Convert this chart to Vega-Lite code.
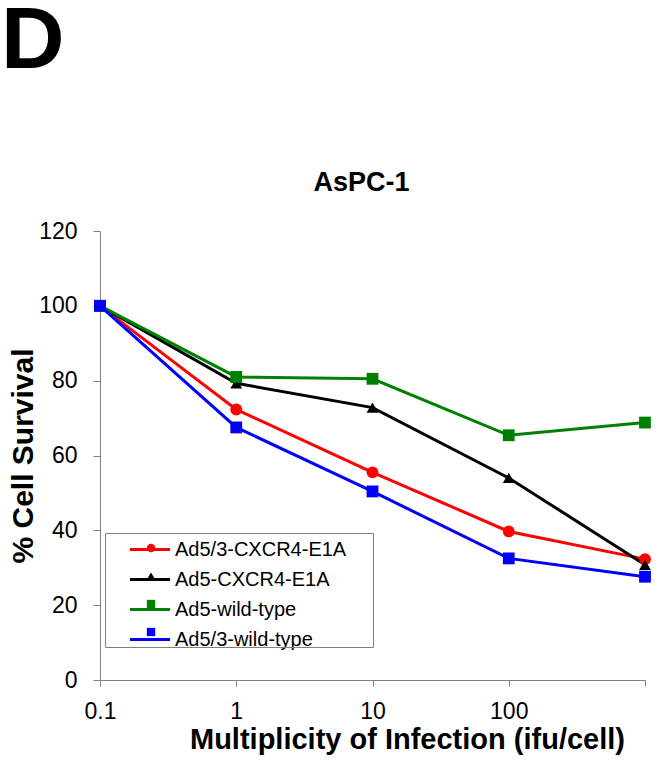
{
  "$schema": "https://vega.github.io/schema/vega-lite/v6.json",
  "background": "white",
  "padding": {"left": 1, "top": -2, "right": 10, "bottom": 10},
  "config": {"font": "Liberation Sans", "view": {"stroke": null}},
  "title": {"text": "D", "anchor": "start", "frame": "bounds", "fontSize": 88, "fontWeight": "bold", "color": "black", "offset": 13, "dx": -7, "baseline": "alphabetic"},
  "datasets": {
    "survival": [
      {"series": "Ad5/3-CXCR4-E1A", "moi": 0.1, "survival": 100},
      {"series": "Ad5/3-CXCR4-E1A", "moi": 1, "survival": 72.3},
      {"series": "Ad5/3-CXCR4-E1A", "moi": 10, "survival": 55.5},
      {"series": "Ad5/3-CXCR4-E1A", "moi": 100, "survival": 39.7},
      {"series": "Ad5/3-CXCR4-E1A", "moi": 1000, "survival": 32.3},
      {"series": "Ad5-CXCR4-E1A", "moi": 0.1, "survival": 100},
      {"series": "Ad5-CXCR4-E1A", "moi": 1, "survival": 79.3},
      {"series": "Ad5-CXCR4-E1A", "moi": 10, "survival": 72.8},
      {"series": "Ad5-CXCR4-E1A", "moi": 100, "survival": 54},
      {"series": "Ad5-CXCR4-E1A", "moi": 1000, "survival": 30.8},
      {"series": "Ad5-wild-type", "moi": 0.1, "survival": 100},
      {"series": "Ad5-wild-type", "moi": 1, "survival": 81},
      {"series": "Ad5-wild-type", "moi": 10, "survival": 80.5},
      {"series": "Ad5-wild-type", "moi": 100, "survival": 65.4},
      {"series": "Ad5-wild-type", "moi": 1000, "survival": 68.8},
      {"series": "Ad5/3-wild-type", "moi": 0.1, "survival": 100},
      {"series": "Ad5/3-wild-type", "moi": 1, "survival": 67.5},
      {"series": "Ad5/3-wild-type", "moi": 10, "survival": 50.4},
      {"series": "Ad5/3-wild-type", "moi": 100, "survival": 32.5},
      {"series": "Ad5/3-wild-type", "moi": 1000, "survival": 27.6}
    ]
  },
  "vconcat": [
    {
      "width": 545,
      "height": 449,
      "title": {"text": "AsPC-1", "fontSize": 27, "fontWeight": "bold", "color": "black", "offset": 23, "dx": -11},
      "data": {"name": "survival"},
      "encoding": {
        "x": {
          "field": "moi", "type": "quantitative",
          "scale": {"type": "log", "domain": [0.1, 1000], "nice": false},
          "axis": {
            "title": "Multiplicity of Infection (ifu/cell)",
            "values": [0.1, 1, 10, 100, 1000],
            "format": "~g",
            "labelExpr": "datum.value >= 1000 ? '' : datum.label",
            "grid": false, "domainColor": "#808080", "tickColor": "#808080", "tickSize": 6,
            "labelFontSize": 23, "labelColor": "black", "labelPadding": 14, "labelFlush": false,
            "titleFontSize": 29, "titleFontWeight": "bold", "titleColor": "black",
            "titleX": 307, "titleY": 68, "titleBaseline": "alphabetic"
          }
        },
        "y": {
          "field": "survival", "type": "quantitative",
          "scale": {"domain": [0, 120], "nice": false},
          "axis": {
            "title": "% Cell Survival",
            "values": [0, 20, 40, 60, 80, 100, 120],
            "grid": false, "domainColor": "#808080", "tickColor": "#808080", "tickSize": 7,
            "labelFontSize": 23, "labelColor": "black", "labelPadding": 16,
            "titleFontSize": 30, "titleFontWeight": "bold", "titleColor": "black",
            "titleX": -68, "titleBaseline": "alphabetic"
          }
        }
      },
      "layer": [
        {
          "mark": {"type": "line", "strokeWidth": 3},
          "encoding": {
            "stroke": {
              "field": "series", "type": "nominal",
              "scale": {"domain": ["Ad5/3-CXCR4-E1A", "Ad5-CXCR4-E1A", "Ad5-wild-type", "Ad5/3-wild-type"], "range": ["#FF0000", "#000000", "#008000", "#0000FF"]},
              "legend": {"orient": "none", "legendX": 5, "legendY": 302, "title": null, "symbolType": "M-2,0H2", "symbolSize": 400, "symbolStrokeWidth": 3, "labelFontSize": 20, "labelColor": "black", "labelOffset": 13.5, "rowPadding": 8, "padding": 5, "symbolOffset": 28.5, "strokeColor": null, "labelLimit": 400}
            }
          }
        },
        {
          "mark": {"type": "point", "filled": true, "opacity": 1, "size": 140},
          "encoding": {
            "fill": {
              "field": "series", "type": "nominal", "sort": null,
              "scale": {"range": ["#FF0000", "#000000", "#008000", "#0000FF"]},
              "legend": {"orient": "none", "legendX": 5, "legendY": 302, "title": null, "symbolSize": 70, "labelFontSize": 20, "labelOpacity": 0, "labelOffset": 35, "rowPadding": 8, "padding": 5, "symbolOffset": 31, "labelLimit": 400, "symbolStrokeWidth": 0, "strokeColor": "#808080"}
            },
            "shape": {
              "field": "series", "type": "nominal", "sort": null,
              "scale": {"range": ["circle", "triangle-up", "square", "square"]},
              "legend": {"orient": "none", "legendX": 5, "legendY": 302, "title": null, "symbolSize": 70, "labelFontSize": 20, "labelOpacity": 0, "labelOffset": 35, "rowPadding": 8, "padding": 5, "symbolOffset": 31, "labelLimit": 400, "symbolStrokeWidth": 0, "strokeColor": "#808080"}
            }
          }
        }
      ]
    }
  ]
}
